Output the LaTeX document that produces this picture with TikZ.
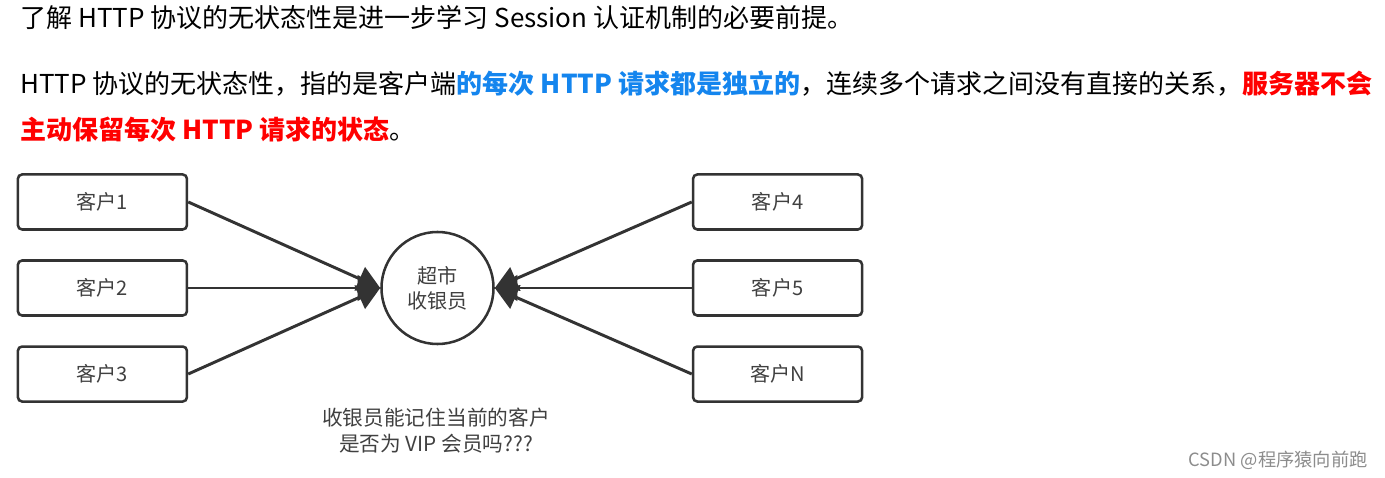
\documentclass[tikz,border=0pt]{standalone}
\usepackage{fontspec}
\setmainfont{Noto Sans CJK SC}
\usepackage{xcolor}
\usepackage{tikz}
\usetikzlibrary{positioning,arrows.meta}

\definecolor{linegray}{HTML}{333333}
\definecolor{textgray}{HTML}{404040}
\definecolor{hiblue}{HTML}{1485EE}
\definecolor{hired}{HTML}{FF0000}

\begin{document}
\begin{tikzpicture}[x=0.025cm, y=-0.025cm, node distance=2.15cm and 8.375cm, on grid,
    client/.style={draw=linegray, line width=1.8pt, rounded corners=3pt,
        minimum width=4.225cm, minimum height=1.375cm, inner sep=0pt,
        text=textgray, font=\fontsize{14.3}{17}\selectfont},
    cashier/.style={circle, draw=linegray, line width=1.8pt, minimum size=2.8cm,
        inner sep=0pt, align=center, text=textgray, font=\fontsize{14.3}{18}\selectfont},
    para/.style={anchor=base west, inner sep=0pt, font=\fontsize{18.5}{22}\selectfont},
    note/.style={align=center, inner sep=0pt, text=textgray, font=\fontsize{14.7}{18.5}\selectfont},
    req/.style={draw=linegray, line width=2.1pt, -{Triangle[length=16pt, width=18pt]}}]
    \useasboundingbox (0,0) rectangle (1385,478);

    % Text
    \node[para] (intro) at (20,28) {了解 HTTP 协议的无状态性是进一步学习 Session 认证机制的必要前提。};
    \node[para] (line1) at (20,94) {HTTP 协议的无状态性，指的是客户端\textbf{\color{hiblue}的每次 HTTP 请求都是独立的}，连续多个请求之间没有直接的关系，\textbf{\color{hired}服务器不会}};
    \node[para] (line2) at (20,140) {\textbf{\color{hired}主动保留每次 HTTP 请求的状态}。};

    % Nodes
    \node[cashier] (cashier) at (437.5,288) {超市\\收银员};
    \node[client] (c2) [left=of cashier] {客户2};
    \node[client] (c1) [above=of c2] {客户1};
    \node[client] (c3) [below=of c2] {客户3};
    \node[client] (c5) [right=8.5cm of cashier] {客户5};
    \node[client] (c4) [above=of c5] {客户4};
    \node[client] (cN) [below=of c5] {客户N};
    \node[note] (question) at (436,431) {收银员能记住当前的客户\\是否为 VIP 会员吗???};
    \node[anchor=base east, inner sep=0pt, text=black!45, font=\fontsize{13}{15}\selectfont] (mark) at (1368,466) {CSDN @程序猿向前跑};

    % Arrows
    \draw[req] (c1.east) -- (cashier.west);
    \draw[req] (c2.east) -- (cashier.west);
    \draw[req] (c3.east) -- (cashier.west);
    \draw[req] (c4.west) -- (cashier.east);
    \draw[req] (c5.west) -- (cashier.east);
    \draw[req] (cN.west) -- (cashier.east);
\end{tikzpicture}
\end{document}
